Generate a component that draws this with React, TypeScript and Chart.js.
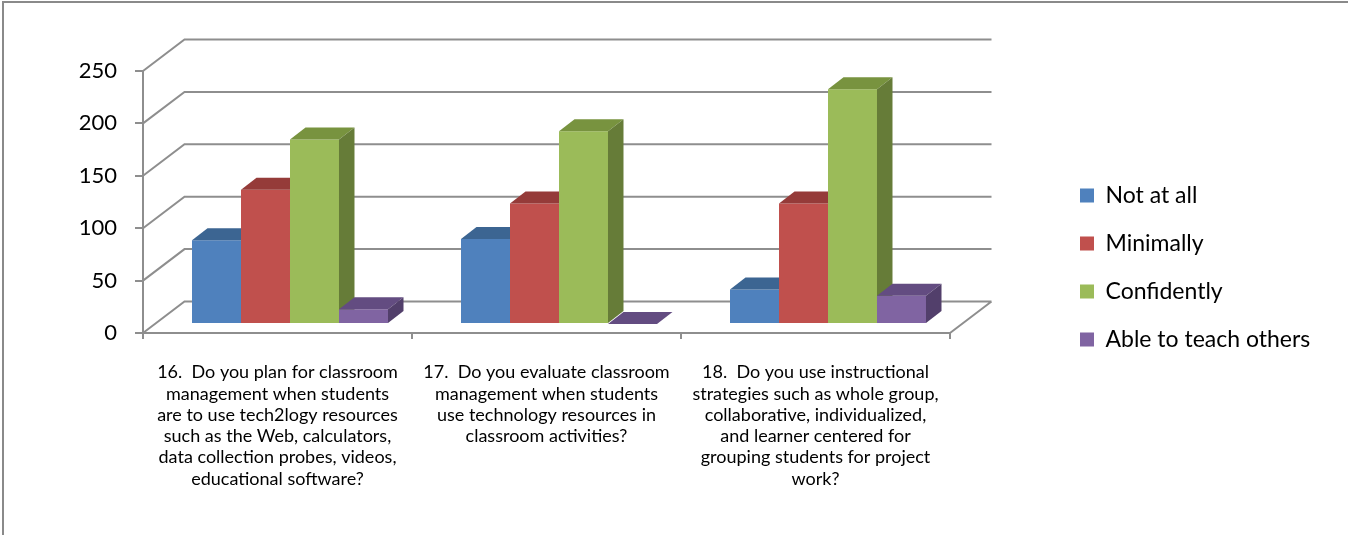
import React, { useEffect, useRef } from 'react';
import { Chart, registerables } from 'chart.js';

Chart.register(...registerables);

// ---------- data ----------
const categories: string[][] = [
  [
    '16.  Do you plan for classroom',
    'management when students',
    'are to use tech2logy resources',
    'such as the Web, calculators,',
    'data collection probes, videos,',
    'educational software?',
  ],
  [
    '17.  Do you evaluate classroom',
    'management when students',
    'use technology resources in',
    'classroom activities?',
  ],
  [
    '18.  Do you use instructional',
    'strategies such as whole group,',
    'collaborative, individualized,',
    'and learner centered for',
    'grouping students for project',
    'work?',
  ],
];

const seriesNames = ['Not at all', 'Minimally', 'Confidently', 'Able to teach others'];
const notAtAll = [80, 81, 33];
const minimally = [128, 115, 115];
const confidently = [176, 184, 224];
const ableToTeachOthers = [14, 0, 27];
const yMin = 0;
const yMax = 250;
const yStep = 50;

// ---------- styles ----------
const frontColors = ['#4F81BD', '#C0504D', '#9BBB59', '#8064A2'];
const topColors = ['#3C6592', '#953B39', '#78933F', '#634C81'];
const sideColors = ['#36598A', '#8A3735', '#667C38', '#523F6B'];
const GRID = '#8e8e8e';
const FONT = 'Lato, "Open Sans", sans-serif';

// 3D geometry (pixels)
const WALL_DX = 41.5;
const WALL_DY = 31.5;
const BAR_SHIFT_X = 12.5;
const BAR_SHIFT_Y = 9;
const BAR_DX = 15.5;
const BAR_DY = 12;

const threeDPlugin = {
  id: 'threeD',
  beforeDraw(chart: any) {
    const ctx = chart.ctx;
    ctx.save();
    ctx.strokeStyle = '#8a8a8a';
    ctx.lineWidth = 2;
    ctx.beginPath();
    ctx.moveTo(3, chart.height);
    ctx.lineTo(3, 2);
    ctx.lineTo(chart.width, 2);
    ctx.stroke();
    ctx.restore();
  },
  beforeDatasetsDraw(chart: any) {
    const ctx = chart.ctx;
    const a = chart.chartArea;
    const y = chart.scales.y;
    ctx.save();
    // back wall + side wall gridlines
    ctx.strokeStyle = GRID;
    ctx.lineWidth = 2;
    ctx.beginPath();
    y.ticks.forEach((t: any) => {
      const py = y.getPixelForValue(t.value);
      ctx.moveTo(a.left, py);
      ctx.lineTo(a.left + WALL_DX, py - WALL_DY);
      ctx.lineTo(a.right + WALL_DX, py - WALL_DY);
    });
    const p0 = y.getPixelForValue(0);
    ctx.moveTo(a.right, p0);
    ctx.lineTo(a.right + WALL_DX, p0 - WALL_DY);
    ctx.stroke();

    // bars, drawn category by category, series left to right
    const metas = chart
      .getSortedVisibleDatasetMetas()
      .slice()
      .sort((m1: any, m2: any) => m1.index - m2.index);
    for (let j = 0; j < categories.length; j++) {
      for (const meta of metas) {
        const el = meta.data[j];
        if (!el) continue;
        const i = meta.index;
        ctx.save();
        ctx.translate(BAR_SHIFT_X, -BAR_SHIFT_Y);
        el.draw(ctx);
        const top = Math.min(el.y, el.base);
        const bottom = Math.max(el.y, el.base);
        const L = el.x - el.width / 2;
        const R = el.x + el.width / 2;
        // top face
        ctx.fillStyle = topColors[i];
        ctx.beginPath();
        ctx.moveTo(L, top);
        ctx.lineTo(R, top);
        ctx.lineTo(R + BAR_DX, top - BAR_DY);
        ctx.lineTo(L + BAR_DX, top - BAR_DY);
        ctx.closePath();
        ctx.fill();
        // side face
        ctx.fillStyle = sideColors[i];
        ctx.beginPath();
        ctx.moveTo(R, top);
        ctx.lineTo(R + BAR_DX, top - BAR_DY);
        ctx.lineTo(R + BAR_DX, bottom - BAR_DY);
        ctx.lineTo(R, bottom);
        ctx.closePath();
        ctx.fill();
        ctx.restore();
      }
    }
    ctx.restore();
    return false;
  },
};

export default function App() {
  const canvasRef = useRef<HTMLCanvasElement | null>(null);

  useEffect(() => {
    if (!canvasRef.current) return;
    const legendSize = 23;
    const mctx = document.createElement('canvas').getContext('2d')!;
    mctx.font = `${legendSize}px ${FONT}`;
    const tw = Math.max(...seriesNames.map((s) => mctx.measureText(s).width));
    const padRight = Math.max(0, 232.5 - tw);

    const values = [notAtAll, minimally, confidently, ableToTeachOthers];
    const chart = new Chart(canvasRef.current, {
      type: 'bar',
      data: {
        labels: categories,
        datasets: seriesNames.map((name, i) => ({
          label: name,
          data: values[i],
          backgroundColor: frontColors[i],
          borderWidth: 0,
          xAxisID: 'x',
          yAxisID: 'y',
          categoryPercentage: 0.7286,
          barPercentage: 1,
        })),
      },
      options: {
        responsive: false,
        animation: false,
        devicePixelRatio: 1,
        layout: { padding: { top: 0, bottom: 0, left: 0, right: padRight } },
        plugins: {
          tooltip: { enabled: false },
          // empty spacer title reserving the band above the plot
          title: { display: true, text: '', padding: 0, font: { size: 71, lineHeight: 1 } },
          legend: {
            display: true,
            position: 'right',
            align: 'center',
            maxWidth: 400,
            labels: {
              boxWidth: 14,
              boxHeight: 14,
              padding: 25,
              color: '#000',
              font: { family: FONT, size: legendSize },
            },
          },
        },
        scales: {
          x: {
            type: 'category',
            offset: true,
            grid: {
              offset: true,
              drawOnChartArea: false,
              drawTicks: true,
              tickLength: 6,
              color: GRID,
              lineWidth: 2,
            },
            border: { display: true, color: GRID, width: 2 },
            ticks: {
              autoSkip: false,
              maxRotation: 0,
              minRotation: 0,
              padding: 23,
              color: '#000',
              font: { family: FONT, size: 18, lineHeight: 1.18 },
            },
            afterFit: (s: any) => {
              s.height = 202;
            },
          },
          y: {
            type: 'linear',
            position: 'left',
            min: yMin,
            max: yMax,
            grid: {
              drawOnChartArea: false,
              drawTicks: true,
              tickLength: 8,
              color: GRID,
              lineWidth: 2,
            },
            border: { display: true, color: GRID, width: 2 },
            ticks: {
              stepSize: yStep,
              padding: 18,
              color: '#000',
              font: { family: FONT, size: 22 },
            },
            afterFit: (s: any) => {
              s.width = 143;
            },
          },
          yR: {
            type: 'linear',
            position: 'right',
            display: true,
            grid: { display: false, drawTicks: false },
            border: { display: false },
            ticks: { display: false },
            afterFit: (s: any) => {
              s.width = 105;
            },
          },
        },
      },
      plugins: [threeDPlugin],
    } as any);
    return () => chart.destroy();
  }, []);

  return (
    <div
      style={{
        position: 'absolute',
        left: 0,
        top: 0,
        width: 1348,
        height: 535,
        background: '#fff',
      }}
    >
      <canvas ref={canvasRef} width={1348} height={535} style={{ display: 'block' }} />
    </div>
  );
}
